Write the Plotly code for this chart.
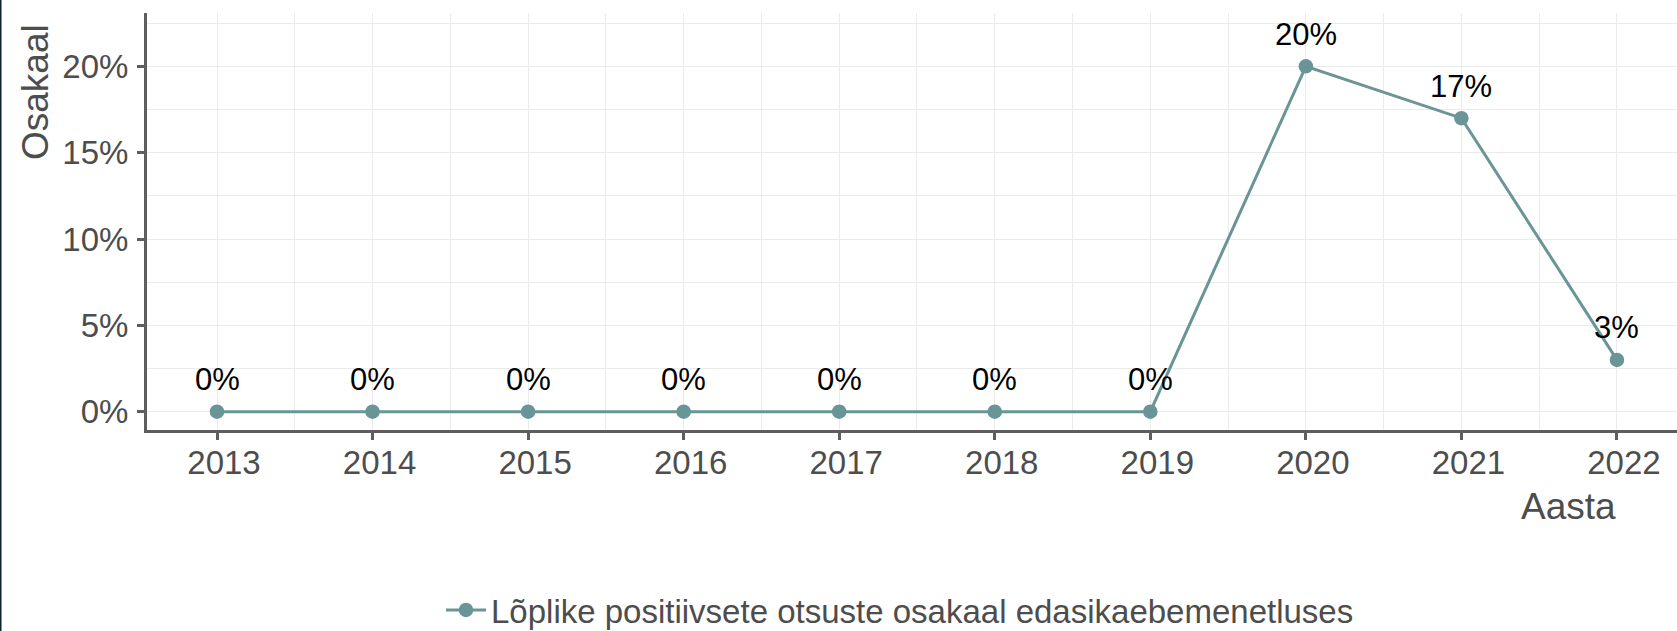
import plotly.graph_objects as go

years = [2013, 2014, 2015, 2016, 2017, 2018, 2019, 2020, 2021, 2022]
shares = [0, 0, 0, 0, 0, 0, 0, 20, 17, 3]
labels = [f"{v}%" for v in shares]
series_name = "Lõplike positiivsete otsuste osakaal edasikaebemenetluses"
y_ticks = [0, 5, 10, 15, 20]
y_tick_text = [f"{v}%" for v in y_ticks]
x_title = "Aasta"
y_title = "Osakaal"

W, H = 1677, 631
ML, MR, MT, MB = 147, 0, 13, 201
PW, PH = W - ML - MR, H - MT - MB

line_color = "#6a9597"
axis_color = "#5e5e5e"
grid_color = "#ebebeb"
text_gray = "#4d4d4d"
FONT = "Liberation Sans, Arial, sans-serif"

fig = go.Figure()
fig.add_trace(go.Scatter(
    x=years, y=shares, mode="lines+markers", name=series_name,
    line=dict(color=line_color, width=3),
    marker=dict(color=line_color, size=14.5),
    hoverinfo="skip",
))

for x, y, t in zip(years, shares, labels):
    fig.add_annotation(x=x, y=y, text=t, showarrow=False, xanchor="center",
                       yanchor="middle", yshift=32,
                       font=dict(family=FONT, size=31, color="black"))

# axis titles (ggplot style: placed at end of axes)
fig.add_annotation(xref="paper", yref="paper", x=(1618 - ML) / PW, y=(430 - 506) / PH,
                   text=x_title, showarrow=False, xanchor="right", yanchor="middle",
                   font=dict(family=FONT, size=37, color=text_gray))
fig.add_annotation(xref="paper", yref="paper", x=(35 - ML) / PW, y=(430 - 22) / PH,
                   text=y_title, showarrow=False, textangle=-90, xanchor="center", yanchor="top",
                   font=dict(family=FONT, size=37, color=text_gray))

# dark strip at left edge
fig.add_shape(type="rect", xref="paper", yref="paper",
              x0=-ML / PW, x1=(1.5 - ML) / PW, y0=-MB / PH, y1=1 + MT / PH,
              fillcolor="#0a2530", line=dict(width=0), layer="above")

fig.update_layout(
    width=W, height=H,
    margin=dict(l=ML, r=MR, t=MT, b=MB, pad=0, autoexpand=False),
    paper_bgcolor="white", plot_bgcolor="white",
    font=dict(family=FONT, color=text_gray),
    showlegend=True,
    legend=dict(orientation="h", xref="container", x=900 / W, xanchor="center",
                yref="container", y=1 - 610 / H, yanchor="middle", itemwidth=40,
                font=dict(family=FONT, size=33, color=text_gray)),
    xaxis=dict(
        range=[2012.55, 2022.386],
        tickvals=years, ticktext=[str(y) for y in years],
        showgrid=True, gridcolor=grid_color, gridwidth=1,
        minor=dict(dtick=0.5, tick0=2012.5, showgrid=True, gridcolor=grid_color, gridwidth=1, ticklen=0),
        showline=True, linecolor=axis_color, linewidth=3,
        ticks="outside", ticklen=7, tickwidth=3, tickcolor=axis_color,
        ticklabelshift=7, ticklabelstandoff=-6,
        tickfont=dict(family=FONT, size=33, color=text_gray),
        zeroline=False, fixedrange=True,
    ),
    yaxis=dict(
        range=[-1.06, 23.09],
        tickvals=y_ticks, ticktext=y_tick_text,
        showgrid=True, gridcolor=grid_color, gridwidth=1,
        minor=dict(dtick=2.5, tick0=0, showgrid=True, gridcolor=grid_color, gridwidth=1, ticklen=0),
        showline=True, linecolor=axis_color, linewidth=3,
        ticks="outside", ticklen=7, tickwidth=3, tickcolor=axis_color,
        ticklabelstandoff=2,
        tickfont=dict(family=FONT, size=33, color=text_gray),
        zeroline=False, fixedrange=True,
    ),
)

fig.write_html("out.html", config={"displayModeBar": False},
               post_script="document.body.style.margin='0';")
